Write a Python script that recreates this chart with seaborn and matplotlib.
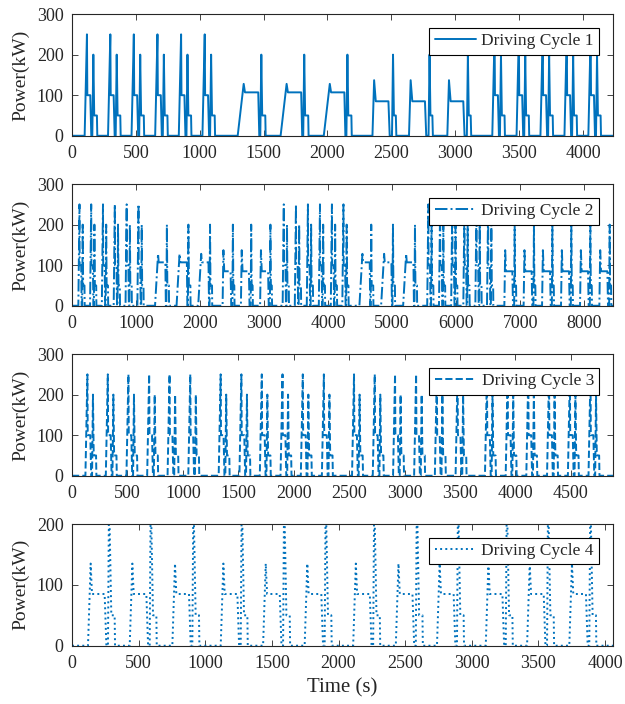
import matplotlib
matplotlib.use("Agg")
import matplotlib.pyplot as plt
import numpy as np
import pandas as pd
import seaborn as sns

# event shapes: seconds from event start, power in kW
SPIKE_T = [0, 18, 21, 44, 52, 60, 68, 75, 96, 99]
SPIKE_P = [0, 250, 100, 100, 0, 0, 200, 50, 50, 0]
HIGH_T = [0, 47, 57, 161, 169, 177, 185, 192, 216, 219]
HIGH_P = [0, 128, 107, 107, 0, 0, 200, 50, 50, 0]
LOW_T = [0, 13, 26, 125, 135, 153, 161, 168, 183, 187]
LOW_P = [0, 137, 85, 85, 0, 0, 200, 50, 50, 0]
LONG_T = [0, 20, 30, 125, 138, 150, 158, 175, 200, 203]
LONG_P = [0, 135, 85, 85, 0, 0, 250, 50, 50, 0]

# event start times (s) for each driving cycle
c1_spike = [99, 282, 466, 651, 836, 1021, 3290, 3480, 3667, 3855, 4042]
c1_high = [1297, 1633, 1971]
c1_low = [2352, 2638, 2938]
c1_end = 4235

c2_spike = [99, 282, 466, 651, 836, 1021, 3290, 3480, 3667, 3855, 4042,
            4222, 5548, 5732, 5922, 6112, 6300, 6482]
c2_high = [1297, 1633, 1971, 4489, 4828, 5172]
c2_low = [2352, 2638, 2938, 6753, 7054, 7342, 7638, 7935, 8237]
c2_end = 8450

c3_spike = [121, 305, 491, 678, 862, 1049, 1323, 1510, 1694, 1881, 2064, 2254,
            2526, 2713, 2896, 3086, 3273, 3460, 3725, 3912, 4098, 4285, 4473, 4659]
c3_end = 4880

c4_long = [120, 433, 753, 1116, 1434, 1746, 2110, 2430, 2739, 3105, 3415, 3732]
c4_end = 4060

COLOR = "#0072BD"


def build_cycle(events, end):
    pieces = []
    for starts, ts, ps in events:
        for s in starts:
            pieces.append(pd.DataFrame({"t": np.array(ts) + s, "p": ps}))
    df = pd.concat(pieces).sort_values("t", kind="stable")
    edges = pd.DataFrame({"t": [0, end], "p": [0, 0]})
    df = pd.concat([edges.iloc[:1], df, edges.iloc[1:]], ignore_index=True)
    return df


cycles = [
    (build_cycle([(c1_spike, SPIKE_T, SPIKE_P), (c1_high, HIGH_T, HIGH_P),
                  (c1_low, LOW_T, LOW_P)], c1_end),
     "-", "Driving Cycle 1", c1_end, np.arange(0, 4001, 500), 300),
    (build_cycle([(c2_spike, SPIKE_T, SPIKE_P), (c2_high, HIGH_T, HIGH_P),
                  (c2_low, LOW_T, LOW_P)], c2_end),
     "-.", "Driving Cycle 2", c2_end, np.arange(0, 8001, 1000), 300),
    (build_cycle([(c3_spike, SPIKE_T, SPIKE_P)], c3_end),
     "--", "Driving Cycle 3", c3_end, np.arange(0, 4501, 500), 300),
    (build_cycle([(c4_long, LONG_T, LONG_P)], c4_end),
     ":", "Driving Cycle 4", c4_end, np.arange(0, 4001, 500), 200),
]

sns.set_style("ticks")
plt.rcParams["font.family"] = ["Liberation Serif", "DejaVu Serif"]
plt.rcParams["mathtext.fontset"] = "stix"

fig, axes = plt.subplots(4, 1, figsize=(6.25, 7.04), dpi=100)
fig.subplots_adjust(left=0.1152, right=0.9808, top=0.980, bottom=0.0828, hspace=0.397)

for ax, (df, ls, name, xmax, xticks, ymax) in zip(axes, cycles):
    sns.lineplot(data=df, x="t", y="p", estimator=None, sort=False, ax=ax,
                 color=COLOR, linestyle=ls, lw=1.4, label=name)
    ax.set_xlim(0, xmax)
    ax.set_ylim(0, ymax)
    ax.set_xticks(xticks)
    ax.set_yticks(np.arange(0, ymax + 1, 100))
    ax.tick_params(direction="in", top=True, right=True, length=4,
                   width=0.6, labelsize=13, colors="#262626")
    ax.tick_params(axis="x", pad=7)
    ax.tick_params(axis="y", pad=6)
    for sp in ax.spines.values():
        sp.set_visible(True)
        sp.set_linewidth(0.8)
        sp.set_color("#262626")
    ax.set_xlabel("")
    ax.set_ylabel("Power(kW)", fontsize=14, labelpad=5)
    leg = ax.legend(loc="upper right", frameon=True, fancybox=False,
                    edgecolor="black", framealpha=1, fontsize=12.5,
                    handlelength=2.4, borderaxespad=0.8, borderpad=0.3,
                    handletextpad=0.3)
    leg.get_frame().set_linewidth(0.8)

axes[-1].set_xlabel("Time (s)", fontsize=15, labelpad=4)

fig.savefig("out.png", dpi=100)
